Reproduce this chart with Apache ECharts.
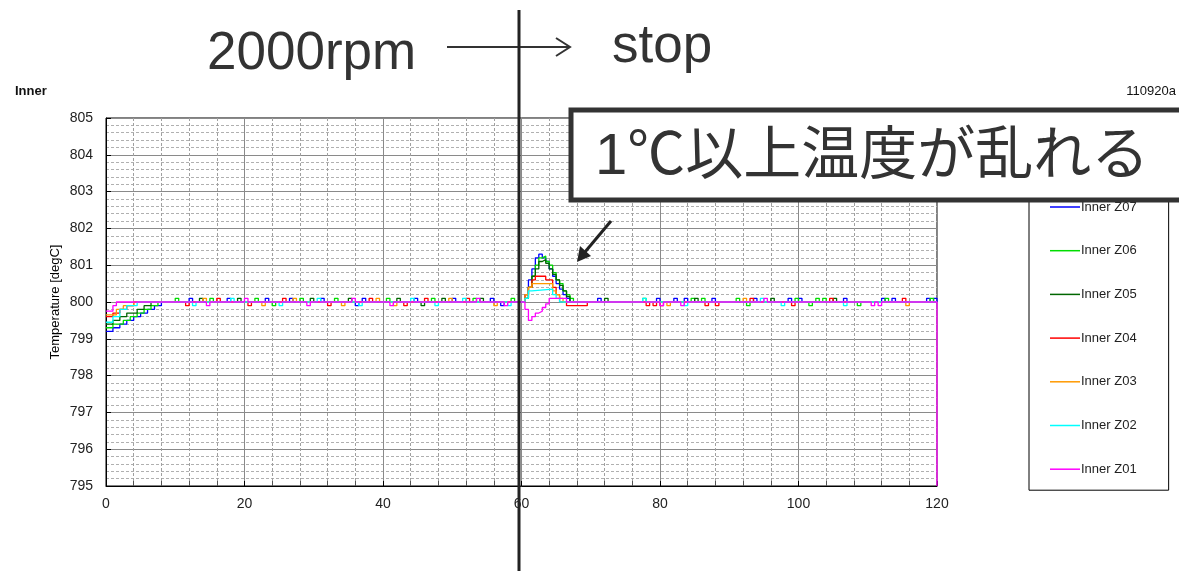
<!DOCTYPE html>
<html>
<head>
<meta charset="utf-8">
<script src="https://cdn.jsdelivr.net/npm/echarts@6/dist/echarts.min.js"></script>
<style>
  html, body { margin: 0; padding: 0; background: #fff; }
  #chart { width: 1179px; height: 571px; }
</style>
</head>
<body>
<div id="chart"></div>
<script>
// series names, top to bottom as in the legend
const names = ["Inner Z07", "Inner Z06", "Inner Z05", "Inner Z04", "Inner Z03", "Inner Z02", "Inner Z01"];
const colors = ["#0000ff", "#00dd00", "#006600", "#ff0000", "#ff9900", "#00ffff", "#ff00ff"];

// change points [time s, degC] : warm-up, the bump after stop, end
const z07Shape = [[0, 799.2], [1, 799.3], [2, 799.4], [3, 799.5], [4, 799.6], [5, 799.7], [6, 799.8], [7, 799.9], [8, 800],
  [60.5, 800.2], [61, 800.6], [61.5, 800.9], [62, 801.2], [62.5, 801.3], [63, 801.2], [63.5, 801.1], [64, 800.9],
  [64.5, 800.7], [65, 800.5], [65.5, 800.35], [66, 800.2], [66.5, 800.1], [67, 800], [120, 800]];
const z06Shape = [[0, 799.3], [1, 799.4], [2.5, 799.5], [3.5, 799.6], [4.5, 799.7], [5.5, 799.8], [6.5, 799.9], [7.5, 800],
  [60.5, 800.1], [61, 800.4], [61.5, 800.7], [62, 801], [62.5, 801.2], [63, 801.25], [63.5, 801.1], [64, 801],
  [64.5, 800.8], [65, 800.6], [65.5, 800.5], [66, 800.3], [66.5, 800.2], [67, 800.1], [67.5, 800], [120, 800]];
const z05Shape = [[0, 799.4], [1, 799.5], [2, 799.6], [3, 799.7], [4.5, 799.8], [5.5, 799.9], [6.5, 800],
  [60.5, 800.1], [61, 800.4], [61.5, 800.7], [62, 800.9], [62.5, 801.1], [63, 801.15], [63.5, 801.05], [64, 800.9],
  [64.5, 800.75], [65, 800.6], [65.5, 800.45], [66, 800.3], [66.5, 800.15], [67, 800], [120, 800]];
const z04Shape = [[0, 799.6], [1, 799.7], [2, 799.8], [3, 799.9], [4, 800],
  [60.5, 800.2], [61, 800.4], [61.5, 800.6], [62, 800.7], [63.5, 800.6], [64.5, 800.4], [65, 800.2], [65.5, 800],
  [66.5, 799.9], [69.5, 800], [120, 800]];
const z03Shape = [[0, 799.65], [1.5, 799.8], [2.5, 799.9], [4, 800],
  [60.5, 800.2], [61, 800.4], [61.5, 800.5], [64.5, 800.3], [65, 800.2], [65.5, 800.1], [66, 800], [120, 800]];
const z02Shape = [[0, 799.45], [1, 799.6], [2, 799.8], [3, 799.9], [4.5, 800],
  [60.5, 800.1], [61, 800.3], [61.5, 800.35], [64.5, 800.2], [65, 800.1], [65.5, 800], [120, 800]];
const z01Shape = [[0, 799.75], [1, 799.9], [1.5, 800],
  [60.5, 799.8], [61, 799.5], [61.5, 799.6], [62, 799.7], [62.5, 799.75], [63, 799.85], [63.5, 799.95], [64, 800.1],
  [66.5, 800], [120, 800], [120, 795]];

// one-sample spikes [time s, degC] on the flat 800 line
const z07Blips = [[12, 800.1], [17.5, 800.1], [23, 800.1], [26.5, 800.1], [31, 800.1], [36, 799.9], [37, 800.1], [44.5, 800.1],
  [50, 800.1], [55.5, 800.1], [57, 799.9], [71, 800.1], [79.5, 800.1], [82, 800.1], [83.5, 800.1], [87.5, 800.1], [93.5, 800.1],
  [98.5, 800.1], [100, 800.1], [106.5, 800.1], [112, 800.1], [113.5, 800.1], [118.5, 800.1], [119.5, 800.1]];
const z06Blips = [[10, 800.1], [15, 800.1], [21.5, 800.1], [24, 799.9], [28, 800.1], [33, 800.1], [40.5, 800.1], [47, 800.1],
  [53, 800.1], [58.5, 800.1], [77.5, 800.1], [84.5, 800.1], [86, 800.1], [91, 800.1], [92.5, 799.9], [99.5, 800.1],
  [101.5, 799.9], [102.5, 800.1], [103.5, 800.1], [108.5, 799.9], [112.5, 800.1], [119, 800.1]];
const z05Blips = [[13.5, 800.1], [19, 800.1], [29.5, 800.1], [35, 800.1], [42, 800.1], [45.5, 799.9], [48.5, 800.1],
  [54, 800.1], [72, 800.1], [85, 800.1], [96, 800.1], [105, 800.1]];
const z04Blips = [[11.5, 799.9], [16, 800.1], [20.5, 799.9], [25.5, 800.1], [32, 799.9], [38, 800.1], [43, 799.9], [46, 800.1],
  [52, 800.1], [78, 799.9], [79, 799.9], [80, 799.9], [86.5, 799.9], [88, 799.9], [93, 800.1], [99, 799.9], [104.5, 800.1],
  [115, 800.1]];
const z03Blips = [[14, 800.1], [22.5, 799.9], [27, 800.1], [34, 799.9], [39, 800.1], [41.5, 799.9], [49.5, 800.1], [56, 799.9],
  [81, 799.9], [92, 800.1], [115.5, 799.9]];
const z02Blips = [[12.5, 799.9], [18, 800.1], [25, 799.9], [30.5, 800.1], [36.5, 799.9], [44, 800.1], [47.5, 799.9],
  [51.5, 800.1], [58, 799.9], [77.5, 800.1], [83.5, 799.9], [94.5, 800.1], [97.5, 799.9], [106.5, 799.9]];
const z01Blips = [[14.5, 799.9], [20, 800.1], [29, 799.9], [35.5, 800.1], [41, 799.9], [53.5, 800.1], [57.5, 799.9],
  [80, 799.9], [83, 799.9], [95, 800.1], [110.5, 799.9], [111.5, 799.9]];

const shapes = [z07Shape, z06Shape, z05Shape, z04Shape, z03Shape, z02Shape, z01Shape];
const blips = [z07Blips, z06Blips, z05Blips, z04Blips, z03Blips, z02Blips, z01Blips];

// each spike lasts one sample (0.5 s) and falls back to 800
function buildPoints(shape, spikes) {
  let pts = shape.slice();
  spikes.forEach(function (b) {
    pts.push([b[0], b[1]]);
    pts.push([b[0] + 0.5, 800]);
  });
  return pts.sort(function (a, b) { return a[0] - b[0]; });
}

const chart = echarts.init(document.getElementById("chart"));
const font = "Liberation Sans";

let series = [];
for (let i = 0; i < names.length; i++) {
  series.push({
    name: names[i],
    type: "line",
    step: "end",
    symbol: "none",
    data: buildPoints(shapes[i], blips[i]),
    lineStyle: { width: 1.3, color: colors[i] },
    itemStyle: { color: colors[i] },
  });
}

// tip of the dark arrow pointing at the bump
const tip = [577, 262];

const option = {
  animation: false,
  backgroundColor: "#fff",
  grid: {
    left: 106,
    right: 242,
    top: 118,
    bottom: 85,
    show: true,
    borderColor: "#000",
    borderWidth: 1,
  },
  xAxis: {
    type: "value",
    min: 0,
    max: 120,
    interval: 20,
    axisLine: { lineStyle: { color: "#000", width: 1 } },
    axisTick: { inside: true, length: 5, lineStyle: { color: "#000" } },
    minorTick: { show: true, splitNumber: 5, length: 5, lineStyle: { color: "#555" } },
    axisLabel: { fontFamily: font, fontSize: 14, color: "#222", margin: 11 },
    splitLine: { lineStyle: { color: "#8a8a8a", width: 1 } },
    minorSplitLine: { show: true, lineStyle: { color: "#a0a0a0", type: [3, 2] } },
  },
  yAxis: {
    type: "value",
    min: 795,
    max: 805,
    interval: 1,
    name: "Temperature [degC]",
    nameLocation: "middle",
    nameGap: 44,
    nameMoveOverlap: false,
    nameTextStyle: { fontFamily: font, fontSize: 13, color: "#000" },
    axisLine: { show: true, lineStyle: { color: "#000", width: 1 } },
    axisTick: { show: true, inside: true, length: 5, lineStyle: { color: "#000" } },
    axisLabel: { fontFamily: font, fontSize: 14, color: "#222", margin: 13 },
    splitLine: { lineStyle: { color: "#8a8a8a", width: 1 } },
    minorTick: { show: false, splitNumber: 5 },
    minorSplitLine: { show: true, lineStyle: { color: "#b0b0b0", type: [3, 2] } },
  },
  legend: {
    data: names,
    orient: "vertical",
    left: 1029,
    top: 186,
    padding: [14, 32, 14, 21],
    icon: "rect",
    itemGap: 29.7,
    itemWidth: 30,
    itemHeight: 1.5,
    borderColor: "#000",
    borderWidth: 1,
    backgroundColor: "#fff",
    textStyle: { fontFamily: font, fontSize: 13, color: "#222", lineHeight: 14, padding: [0, 0, 0, -4] },
  },
  graphic: [
    { type: "text", z: 100, style: { text: "Inner", x: 15, y: 91, font: "bold 13px " + font, fill: "#111", verticalAlign: "middle" } },
    { type: "text", z: 100, style: { text: "110920a", x: 1176, y: 91, font: "13px " + font, fill: "#111", align: "right", verticalAlign: "middle" } },
    { type: "text", z: 100, style: { text: "2000rpm", x: 207, y: 54, font: "53px " + font, fill: "#333", verticalAlign: "middle" } },
    { type: "text", z: 100, style: { text: "stop", x: 612, y: 47, font: "53px " + font, fill: "#333", verticalAlign: "middle" } },
    { type: "line", z: 100, shape: { x1: 447, y1: 47, x2: 570, y2: 47 }, style: { stroke: "#333", lineWidth: 2 } },
    { type: "polyline", z: 100, shape: { points: [[556, 38], [570, 47], [556, 56]] }, style: { stroke: "#333", lineWidth: 2, fill: null } },
    { type: "line", z: 100, shape: { x1: 519, y1: 10, x2: 519, y2: 571 }, style: { stroke: "#222", lineWidth: 3 } },
    { type: "rect", z: 100, shape: { x: 571, y: 110, width: 650, height: 90 }, style: { fill: "#fff", stroke: "#333", lineWidth: 5 } },
    { type: "text", z: 101, style: { text: "1℃以上温度が乱れる", x: 595, y: 158, font: "58px 'Liberation Sans', 'Noto Sans CJK JP'", fill: "#333", verticalAlign: "middle" } },
    { type: "line", z: 100, shape: { x1: 611, y1: 221, x2: 585, y2: 252 }, style: { stroke: "#222", lineWidth: 3 } },
    { type: "polygon", z: 100, shape: { points: [tip, [591, 256], [580, 246]] }, style: { fill: "#222" } },
  ],
  series: series,
};

chart.setOption(option);
window.addEventListener("resize", () => {
  chart.resize();
});
</script>
</body>
</html>
